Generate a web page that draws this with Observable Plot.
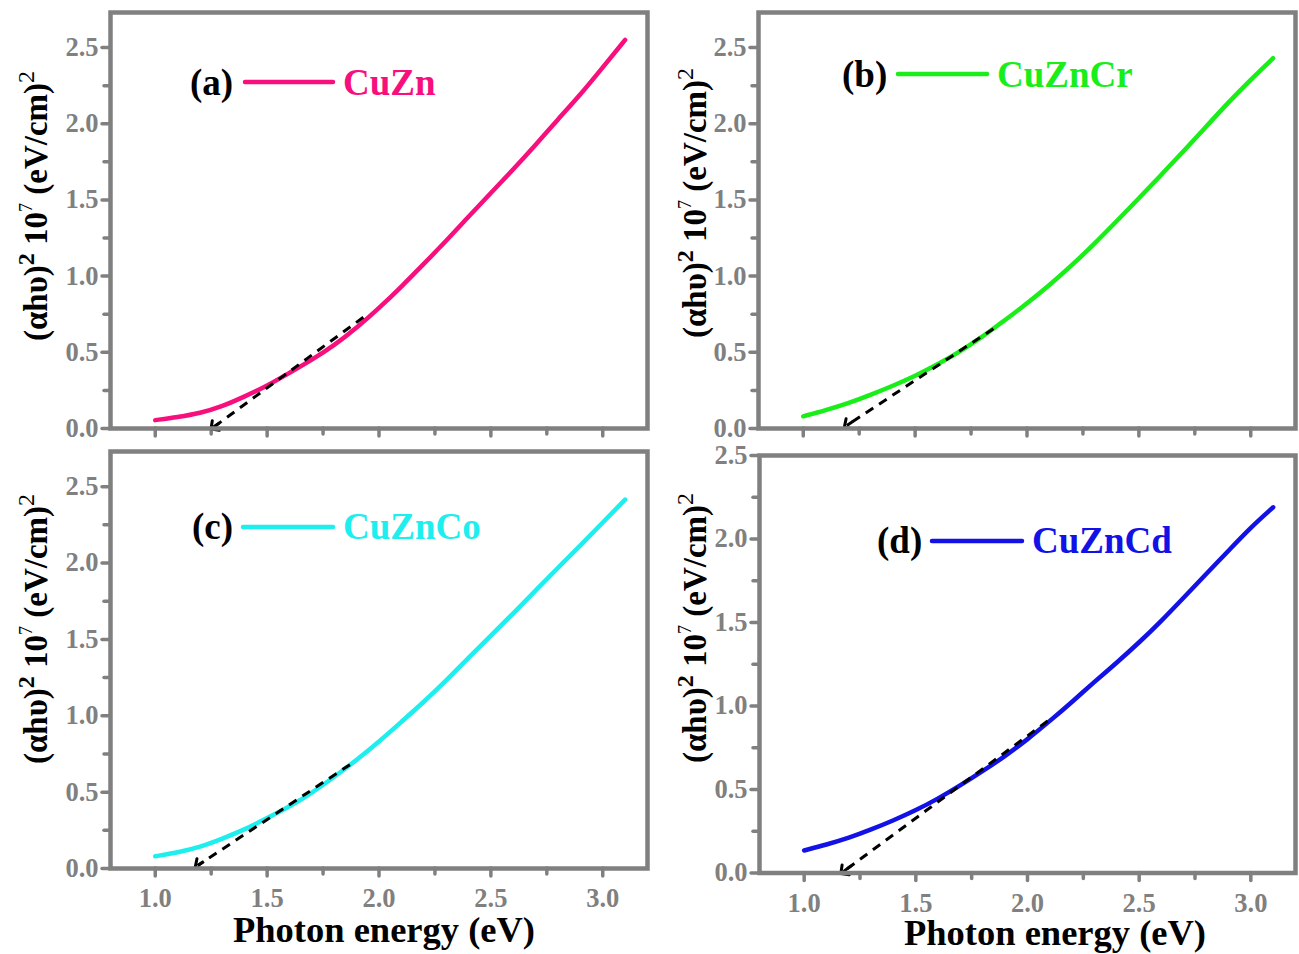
<!DOCTYPE html>
<html><head><meta charset="utf-8">
<script src="https://cdn.jsdelivr.net/npm/d3@7"></script>
<script src="https://cdn.jsdelivr.net/npm/@observablehq/plot@0.6"></script>
<style>
body{margin:0;background:#fff;}
#chart{position:relative;width:1299px;height:954px;overflow:hidden;background:#fff;}
#chart svg{position:absolute;overflow:visible;}
</style></head><body><div id="chart"></div>
<script>
// ---- data ----
const energy = [1.0,1.1,1.2,1.3,1.4,1.5,1.6,1.7,1.8,1.9,2.0,2.1,2.2,2.3,2.4,2.5,2.6,2.7,2.8,2.9,3.0,3.1];
const cuZn   = [0.055,0.075,0.10,0.145,0.21,0.28,0.365,0.45,0.545,0.66,0.79,0.93,1.08,1.23,1.39,1.545,1.70,1.86,2.03,2.19,2.37,2.55];
const cuZnCr = [0.08,0.12,0.165,0.22,0.28,0.345,0.42,0.505,0.60,0.71,0.82,0.94,1.07,1.21,1.36,1.51,1.665,1.82,1.98,2.14,2.29,2.43];
const cuZnCo = [0.08,0.105,0.14,0.195,0.255,0.33,0.405,0.495,0.60,0.71,0.83,0.96,1.09,1.23,1.38,1.525,1.67,1.82,1.97,2.115,2.265,2.415];
const cuZnCd = [0.135,0.17,0.21,0.26,0.315,0.375,0.445,0.525,0.61,0.70,0.80,0.91,1.025,1.145,1.26,1.38,1.51,1.65,1.79,1.93,2.07,2.19];
const samples = ["CuZn","CuZnCr","CuZnCo","CuZnCd"];
const panelTags = ["(a)","(b)","(c)","(d)"];
// tangent (Tauc extrapolation) arrows: start on curve -> x-intercept
const tangentStartE = [1.93,1.85,1.87,2.09];
const tangentStartV = [0.73,0.655,0.68,0.91];
const interceptE = [1.26,1.195,1.19,1.175];
const interceptV = [0.008,0.02,0.02,0.008];
const xTicksMajor = [1.0,1.5,2.0,2.5,3.0];
const xTicksMinor = [1.25,1.75,2.25,2.75];
const yTicksMajor = [0,0.5,1.0,1.5,2.0,2.5];
const yTicksMinor = [0.25,0.75,1.25,1.75,2.25];
const yMax = [2.73,2.73,2.73,2.5];
const xTitle = "Photon energy (eV)";

// ---- styles / layout ----
const series = [cuZn,cuZnCr,cuZnCo,cuZnCd];
const colors = ["#f7107d","#19ee19","#1eeeee","#1212e6"];
const gray = "#808080";
const FONT = "'Liberation Serif','Times New Roman',serif";
const layout = [
  {left:0,top:0,width:660,height:440,mt:12,mb:12,ml:110,mr:13,showX:false,
   yt:[47,206], leg:{tag:190,l1:245,l2:333,ly:82,lab:343,base:95}},
  {left:660,top:0,width:639,height:440,mt:12,mb:12,ml:98,mr:4,showX:false,
   yt:[46,203], leg:{tag:182,l1:238,l2:327,ly:74,lab:337,base:87}},
  {left:0,top:440,width:660,height:514,mt:11,mb:86,ml:110,mr:13,showX:true,
   yt:[47,189], xt:[384,502], leg:{tag:192,l1:243,l2:333,ly:87,lab:343,base:99}},
  {left:660,top:440,width:639,height:514,mt:15,mb:81.5,ml:99,mr:4,showX:true,
   yt:[46,188], xt:[395,505], leg:{tag:217,l1:272,l2:362,ly:101,lab:372,base:113}}
];

const chart = document.getElementById("chart");
const fmt = d3.format(".1f");

layout.forEach((L,i)=>{
  const data = energy.map((e,j)=>({e, v: series[i][j]}));
  const tangent = [{x1:tangentStartE[i], y1:tangentStartV[i], x2:interceptE[i], y2:interceptV[i]}];
  // short solid tail at the intercept end that carries the arrow-head marker
  const tail = tangent.map(d => ({x1: d.x2 + (d.x1 - d.x2) * 0.04, y1: d.y2 + (d.y1 - d.y2) * 0.04, x2: d.x2, y2: d.y2}));
  const axisCommon = {stroke: gray, fill: gray, strokeWidth: 3.5, strokeLinecap: "round",
                      fontSize: 26.5, fontWeight: "bold", fontFamily: FONT, label: null};
  const plot = Plot.plot({
    width: L.width, height: L.height,
    marginTop: L.mt, marginBottom: L.mb, marginLeft: L.ml, marginRight: L.mr,
    x: {domain: [0.8, 3.2]},
    y: {domain: [0, yMax[i]]},
    style: {fontFamily: FONT, background: "transparent", overflow: "visible"},
    marks: [
      Plot.axisX({...axisCommon, ticks: xTicksMajor, tickSize: 8, tickPadding: 12,
                  tickFormat: L.showX ? fmt : () => ""}),
      Plot.axisX({...axisCommon, ticks: xTicksMinor, tickSize: 6, tickFormat: () => ""}),
      Plot.axisY({...axisCommon, ticks: yTicksMajor, tickSize: 8, tickPadding: 4, tickFormat: fmt}),
      Plot.axisY({...axisCommon, ticks: yTicksMinor, tickSize: 6, tickFormat: () => ""}),
      Plot.line(data, {x: "e", y: "v", stroke: colors[i], strokeWidth: 4.5, curve: "basis"}),
      Plot.link(tangent, {x1: "x1", y1: "y1", x2: "x2", y2: "y2", stroke: "black",
                strokeWidth: 3, strokeDasharray: "9,7"}),
      Plot.link(tail, {x1: "x1", y1: "y1", x2: "x2", y2: "y2", stroke: "black",
                strokeWidth: 3, markerEnd: "arrow"}),
      Plot.frame({stroke: gray, strokeWidth: 4.5})
    ]
  });
  plot.style.left = L.left + "px";
  plot.style.top = L.top + "px";
  const svg = d3.select(plot);

  // y-axis title with superscripts
  const t = svg.append("text")
    .attr("transform", `translate(${L.yt[0]},${L.yt[1]}) rotate(-90)`)
    .attr("text-anchor","middle").attr("font-family",FONT).attr("font-weight","bold")
    .attr("font-size",33).attr("fill","black");
  t.append("tspan").text("(\u03b1h\u03c5)");
  t.append("tspan").attr("font-size",24).attr("dy",-13).text("2");
  t.append("tspan").attr("dy",13).text(" 10");
  t.append("tspan").attr("font-size",18).attr("dy",-15).attr("font-weight","normal").text("7");
  t.append("tspan").attr("dy",15).text(" (eV/cm)");
  t.append("tspan").attr("font-size",24).attr("dy",-13).attr("font-weight","normal").text("2");

  // x-axis title
  if (L.xt) {
    svg.append("text").attr("x",L.xt[0]).attr("y",L.xt[1]).attr("text-anchor","middle")
      .attr("font-family",FONT).attr("font-weight","bold").attr("font-size",36.5)
      .attr("fill","black").text(xTitle);
  }

  // legend
  const g = L.leg;
  svg.append("text").attr("x",g.tag).attr("y",g.base).attr("text-anchor","start").attr("font-family",FONT)
    .attr("font-weight","bold").attr("font-size",37).attr("fill","black").text(panelTags[i]);
  svg.append("line").attr("x1",g.l1).attr("x2",g.l2).attr("y1",g.ly).attr("y2",g.ly)
    .attr("stroke",colors[i]).attr("stroke-width",4.5).attr("stroke-linecap","round");
  svg.append("text").attr("x",g.lab).attr("y",g.base).attr("text-anchor","start").attr("font-family",FONT)
    .attr("font-weight","bold").attr("font-size",37).attr("fill",colors[i]).text(samples[i]);

  chart.appendChild(plot);
});
</script></body></html>
